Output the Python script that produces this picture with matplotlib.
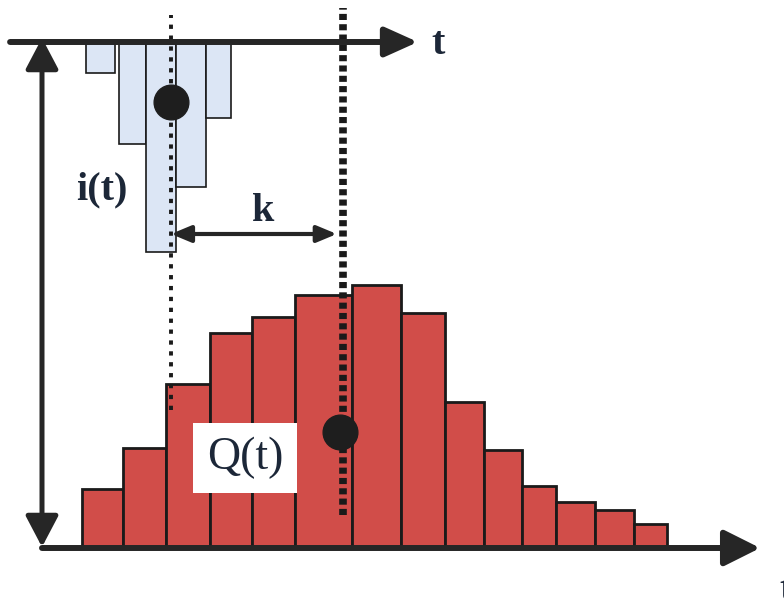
import numpy as np
import matplotlib.pyplot as plt

# Runoff hydrograph Q(t): bin edges (time units) and discharge per bin
q_edges = [0.96, 1.94, 2.96, 4.0, 5.01, 6.02, 7.39, 8.55, 9.6, 10.52, 11.42, 12.24, 13.17, 14.1, 14.89]
q_vals = [5.9, 10.0, 16.4, 21.5, 23.1, 25.3, 26.3, 23.5, 14.6, 9.8, 6.2, 4.6, 3.8, 2.4]

# Rainfall hyetograph i(t), hanging from the upper time axis
i_edges_left = [1.05, 1.83, 2.48, 3.19, 3.9]
i_edges_right = [1.74, 2.48, 3.19, 3.9, 4.5]
i_vals = [3.1, 10.2, 21.0, 14.5, 7.6]

# centroids of rainfall and runoff (lag k between them)
t_rain_c = 3.07
t_flow_c = 7.17

TOP = 50.6          # level of the upper time axis
TXT = '#1c2738'
INK = '#262626'

fig = plt.figure( figsize=( 7.84, 6.07 ), dpi=100 )
ax = fig.add_axes( [ 0, 0, 1, 1 ] )
ax.set_xlim( -1, 17.667 )
ax.set_ylim( -5.9, 54.8 )
ax.axis( 'off' )

# Q(t) bars
q_edges = np.array( q_edges )
ax.bar( q_edges[ :-1 ], q_vals, width=np.diff( q_edges ), align='edge',
        color='#d14d49', edgecolor='#1a1a1a', linewidth=2.0, zorder=2 )

# i(t) bars
il = np.array( i_edges_left )
iv = np.array( i_vals )
ax.bar( il, iv, width=np.array( i_edges_right ) - il, bottom=TOP - iv, align='edge',
        color='#dce6f5', edgecolor='#1a1a1a', linewidth=1.2, zorder=2 )


def arrow( x0, y0, x1, y1, lw, hl, hw, style='-|>' ):
    ax.annotate( '', xy=( x1, y1 ), xytext=( x0, y0 ),
                 arrowprops=dict( arrowstyle=f'{style},head_length={hl},head_width={hw}',
                                  lw=lw, color=INK, shrinkA=0, shrinkB=0,
                                  mutation_scale=1 ), zorder=5 )


# axes of the diagram
arrow( 0, 0, 17.1, 0, 4.3, 22, 11 )
arrow( -0.76, TOP, 8.95, TOP, 4.3, 20, 9 )
arrow( 0, 0.1, 0, 51.0, 3.6, 19, 10, style='<|-|>' )

# centroid lines and points
ax.plot( [ t_rain_c, t_rain_c ], [ 13.8, 53.3 ], color='#1a1a1a', lw=2.8,
         linestyle=( 0, ( 1.1, 1.7 ) ), zorder=4 )
ax.plot( [ t_flow_c, t_flow_c ], [ 3.3, 54.0 ], color='#1a1a1a', lw=5.5,
         linestyle=( 0, ( 0.8, 0.55 ) ), zorder=4 )
ax.plot( t_rain_c, 44.6, 'o', color='#1e1e1e', markersize=25, zorder=6 )
ax.plot( t_flow_c - 0.07, 11.6, 'o', color='#1e1e1e', markersize=25, zorder=6 )

# lag k
arrow( t_rain_c, 31.4, t_flow_c - 0.15, 31.4, 3.0, 12, 5, style='<|-|>' )

font = dict( family='Liberation Serif', color=TXT )
ax.text( 5.26, 33.6, 'k', fontsize=29, fontweight='bold', ha='center', va='center', **font )
ax.text( 1.43, 35.8, 'i(t)', fontsize=29, fontweight='bold', ha='center', va='center', **font )
ax.text( 9.43, 50.3, 't', fontsize=29, fontweight='bold', ha='center', va='center', **font )
ax.text( 17.72, -4.2, 't', fontsize=29, fontweight='bold', ha='center', va='center', **font )
ax.text( 4.83, 9.0, 'Q(t)', fontsize=33, ha='center', va='center', zorder=7,
         bbox=dict( boxstyle='square,pad=0.3', fc='white', ec='none' ), **font )

fig.savefig( 'out.png', dpi=100 )
